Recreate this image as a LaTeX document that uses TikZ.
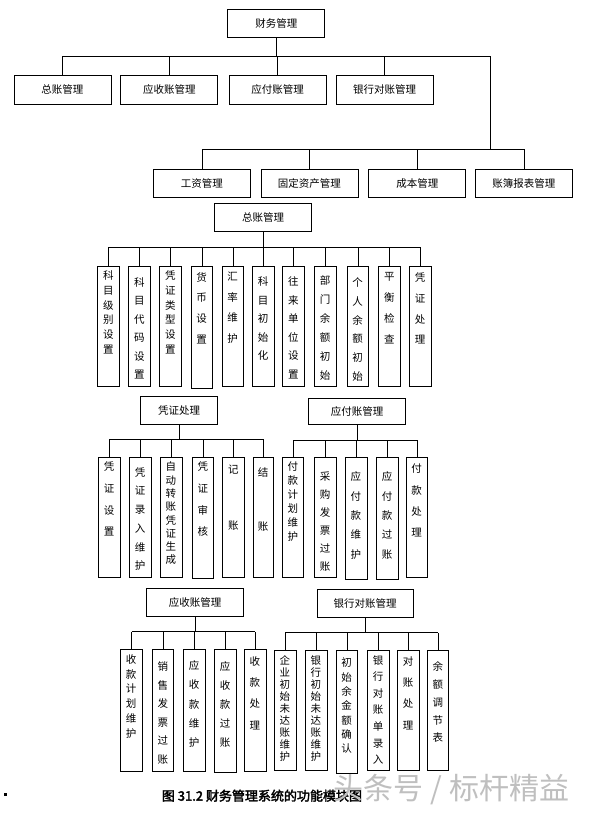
\documentclass[tikz,border=0pt]{standalone}
\usepackage{fontspec}
\newfontfamily\cjk{Noto Sans CJK SC}
\newfontfamily\cjkbold[FakeBold=2.5]{Noto Sans CJK SC}
\tikzset{
  hbox/.style={draw, line width=0.9pt, inner sep=0pt, font=\cjk\fontsize{10.5}{12}\selectfont},
  lbox/.style={draw, line width=0.9pt, inner sep=0pt},
  ltext/.style={inner sep=0pt, align=center},
  conn/.style={line width=0.9pt},
}
\newcommand\mybox[6]{%
  \node[hbox, anchor=north west, minimum width={(#4-#2)*1pt}, minimum height={(#5-#3)*1pt}] (#1) at (#2,#3) {#6};}
\newcommand\myleaf[8]{%
  \node[lbox, anchor=north west, minimum width={(#4-#2)*1pt}, minimum height={(#5-#3)*1pt}] (#1) at (#2,#3) {};
  \node[ltext, anchor=north, font=\cjk\fontsize{10.5}{#7}\selectfont] (#1-t) at ({(#2+#4)/2}, #6-5.5) {#8};}
\begin{document}
\begin{tikzpicture}[x=1pt,y=-1pt]
\useasboundingbox (0,0) rectangle (589,817);
\fill[white] (0,0) rectangle (589,817);

% ---------- top level ----------
\mybox{root}{227.4}{9.3}{324.4}{37.3}{财务管理}
\mybox{zz}{13.5}{75.3}{110.5}{103.7}{总账管理}
\mybox{ys}{120.3}{75.3}{217.3}{103.7}{应收账管理}
\mybox{yf}{228.6}{75.3}{325.6}{103.7}{应付账管理}
\mybox{yh}{335.7}{75.3}{432.7}{103.7}{银行对账管理}
\mybox{gz}{153}{169.3}{250}{197.3}{工资管理}
\mybox{gd}{260.5}{169.3}{357.5}{197.3}{固定资产管理}
\mybox{cb}{368.4}{169.3}{465.4}{197.3}{成本管理}
\mybox{zb}{475}{169.3}{572}{197.3}{账簿报表管理}
\coordinate (b1) at (490.6,56);
\coordinate (b2) at (490.6,149);
\draw[conn] (root.south) -- (root.south |- b1);
\draw[conn] (zz.north |- b1) -- (b1) -- (b2);
\foreach \n in {zz,ys,yf,yh} \draw[conn] (\n.north) -- (\n.north |- b1);
\draw[conn] (gz.north |- b2) -- (zb.north |- b2);
\foreach \n in {gz,gd,cb,zb} \draw[conn] (\n.north) -- (\n.north |- b2);

% ---------- 总账管理 ----------
\mybox{zz2}{214.3}{203.3}{311}{231}{总账管理}
\myleaf{a1}{97.3}{265.7}{119.3}{386}{276}{14.8}{科\\目\\级\\别\\设\\置}
\myleaf{a2}{128.3}{265.7}{150.3}{386}{282.7}{18.5}{科\\目\\代\\码\\设\\置}
\myleaf{a3}{159.3}{265.7}{181.3}{386}{276}{14.8}{凭\\证\\类\\型\\设\\置}
\myleaf{a4}{191}{265.7}{212.3}{387.7}{277.7}{20.7}{货\\币\\设\\置}
\myleaf{a5}{221.7}{265.7}{243.3}{386}{277.7}{20.5}{汇\\率\\维\\护}
\myleaf{a6}{252.3}{265.7}{274}{386}{282.3}{18.5}{科\\目\\初\\始\\化}
\myleaf{a7}{282.3}{265.7}{304.3}{386}{282.3}{18.5}{往\\来\\单\\位\\设\\置}
\myleaf{a8}{314.3}{265.7}{336}{386}{281}{18.9}{部\\门\\余\\额\\初\\始}
\myleaf{a9}{346.7}{265.7}{368.3}{386}{283.3}{18.7}{个\\人\\余\\额\\初\\始}
\myleaf{a10}{378.3}{265.7}{400.3}{386}{277.7}{20.9}{平\\衡\\检\\查}
\myleaf{a11}{409.3}{265.7}{430.7}{386}{277.7}{20.9}{凭\\证\\处\\理}
\coordinate (ba) at (262.7,247.3);
\draw[conn] (zz2.south) -- (zz2.south |- ba);
\draw[conn] (a1.north |- ba) -- (a11.north |- ba);
\foreach \n in {a1,a2,a3,a4,a5,a6,a7,a8,a9,a10,a11} \draw[conn] (\n.north) -- (\n.north |- ba);

% ---------- 凭证处理 ----------
\mybox{pz}{140}{395.7}{217.3}{424}{凭证处理}
\myleaf{p1}{98.3}{456.7}{120}{576.7}{467.3}{21.7}{凭\\证\\设\\置}
\myleaf{p2}{129.3}{456.7}{150.7}{576.7}{472.7}{18.7}{凭\\证\\录\\入\\维\\护}
\myleaf{p3}{160}{456.7}{181.7}{576.7}{467.3}{13.3}{自\\动\\转\\账\\凭\\证\\生\\成}
\myleaf{p4}{192.3}{456.7}{213.3}{578.3}{467.3}{21.7}{凭\\证\\审\\核}
\myleaf{p5}{222.3}{456.7}{244.3}{576.7}{470}{18.9}{记\\\mbox{}\\\mbox{}\\账}
\myleaf{p6}{252.7}{456.7}{273.3}{576.7}{473.3}{17.8}{结\\\mbox{}\\\mbox{}\\账}
\coordinate (bp) at (188.3,439.3);
\draw[conn] (pz.south) -- (pz.south |- bp);
\draw[conn] (p1.north |- bp) -- (p6.north |- bp);
\foreach \n in {p1,p2,p3,p4,p5,p6} \draw[conn] (\n.north) -- (\n.north |- bp);

% ---------- 应付账管理 ----------
\mybox{yf2}{308.3}{398.3}{405}{424}{应付账管理}
\myleaf{f1}{282.3}{457.3}{303.3}{576.7}{466.7}{14}{付\\款\\计\\划\\维\\护}
\myleaf{f2}{314.3}{457.3}{336}{576.7}{477.3}{18}{采\\购\\发\\票\\过\\账}
\myleaf{f3}{345}{457.3}{366.7}{579.3}{477.3}{19.3}{应\\付\\款\\维\\护}
\myleaf{f4}{376}{457.3}{398.3}{579.3}{477.3}{19.3}{应\\付\\款\\过\\账}
\myleaf{f5}{406}{457.3}{427.3}{576.7}{469.3}{21.3}{付\\款\\处\\理}
\coordinate (bf) at (356.7,440);
\draw[conn] (yf2.south) -- (yf2.south |- bf);
\draw[conn] (f1.north |- bf) -- (f5.north |- bf);
\foreach \n in {f1,f2,f3,f4,f5} \draw[conn] (\n.north) -- (\n.north |- bf);

% ---------- 应收账管理 ----------
\mybox{ys2}{146}{588.3}{243.3}{616}{应收账管理}
\myleaf{s1}{120}{649}{142.3}{770.7}{660}{14.7}{收\\款\\计\\划\\维\\护}
\myleaf{s2}{152.3}{649}{173.3}{770.7}{667.3}{18.5}{销\\售\\发\\票\\过\\账}
\myleaf{s3}{183.3}{649}{205}{770.7}{666}{19.3}{应\\收\\款\\维\\护}
\myleaf{s4}{214}{649}{236}{771.7}{667.3}{19}{应\\收\\款\\过\\账}
\myleaf{s5}{244}{649}{265.7}{770.7}{661.7}{21.3}{收\\款\\处\\理}
\coordinate (bs) at (195.7,631.7);
\draw[conn] (ys2.south) -- (ys2.south |- bs);
\draw[conn] (s1.north |- bs) -- (s5.north |- bs);
\foreach \n in {s1,s2,s3,s4,s5} \draw[conn] (\n.north) -- (\n.north |- bs);

% ---------- 银行对账管理 ----------
\mybox{yh2}{316.7}{589.3}{412.7}{616.7}{银行对账管理}
\myleaf{h1}{274}{650}{295.7}{770}{660.7}{12}{企\\业\\初\\始\\未\\达\\账\\维\\护}
\myleaf{h2}{305}{650}{326.7}{770}{660.7}{12}{银\\行\\初\\始\\未\\达\\账\\维\\护}
\myleaf{h3}{336}{650}{357.3}{772.7}{663.3}{14.3}{初\\始\\余\\金\\额\\确\\认}
\myleaf{h4}{367.3}{650}{389}{770}{660.7}{16.6}{银\\行\\对\\账\\单\\录\\入}
\myleaf{h5}{397.3}{650}{419}{770}{661.7}{21.3}{对\\账\\处\\理}
\myleaf{h6}{427.3}{650}{448.3}{770}{667.3}{17.7}{余\\额\\调\\节\\表}
\coordinate (bh) at (365,632.7);
\draw[conn] (yh2.south) -- (yh2.south |- bh);
\draw[conn] (h1.north |- bh) -- (h6.north |- bh);
\foreach \n in {h1,h2,h3,h4,h5,h6} \draw[conn] (\n.north) -- (\n.north |- bh);

% ---------- caption ----------
\fill (4,793) rectangle (7,796);
\node[anchor=west, inner sep=0pt, font=\cjkbold\fontsize{13}{15}\selectfont] (cap) at (161.7,795.7) {图 31.2 财务管理系统的功能模块图};
\node[inner sep=0pt, text=gray!50, font=\cjk\fontsize{30}{32}\selectfont] (wm) at (451.5,790) {头条号 / 标杆精益};
\end{tikzpicture}
\end{document}
